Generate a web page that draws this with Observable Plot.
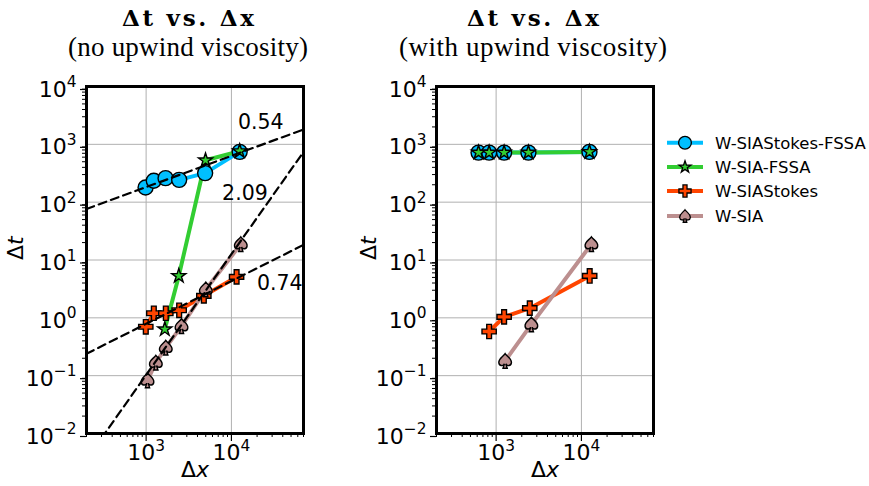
<!DOCTYPE html>
<html><head><meta charset="utf-8">
<script src="https://cdn.jsdelivr.net/npm/d3@7"></script>
<script src="https://cdn.jsdelivr.net/npm/@observablehq/plot@0.6"></script>
<style>
html,body{margin:0;padding:0;background:#fff;}
#wrap{position:relative;width:869px;height:486px;overflow:hidden;font-family:"DejaVu Sans",sans-serif;}
.panel{position:absolute;top:0;}
</style></head><body>
<div id="wrap"></div>
<script>
// ---------- data ----------
const xDomain = [200, 70000];
const yDomain = [1e-2, 1e4];
const xMajor = [1e3, 1e4];
const yMajor = [1e-2, 1e-1, 1e0, 1e1, 1e2, 1e3, 1e4];

const seriesNames = ["W-SIAStokes-FSSA", "W-SIA-FSSA", "W-SIAStokes", "W-SIA"];
const seriesColors = ["deepskyblue", "limegreen", "orangered", "rosybrown"];

const panelTitles = ["Δt vs. Δx", "Δt vs. Δx"];
const panelSubtitles = ["(no upwind viscosity)", "(with upwind viscosity)"];

// Panel 1: no upwind viscosity
const p1StokesFssaDx = [985, 1230, 1690, 2440, 4920, 12500];
const p1StokesFssaDt = [179, 234, 260, 243, 318, 741];
const p1SiaFssaDx = [1656, 2416, 4970, 12500];
const p1SiaFssaDt = [0.635, 5.3, 530, 762];
const p1StokesDx = [991, 1231, 1702, 2440, 4750, 11500];
const p1StokesDt = [0.70, 1.20, 1.20, 1.35, 2.4, 5.1];
const p1SiaDx = [1038, 1300, 1700, 2600, 5010, 12880];
const p1SiaDt = [0.083, 0.168, 0.305, 0.72, 3.1, 18.8];

// Panel 2: with upwind viscosity
const p2StokesFssaDx = [622, 828, 1241, 2393, 12420];
const p2StokesFssaDt = [720, 720, 720, 720, 740];
const p2SiaFssaDx = [622, 828, 1241, 2393, 12420];
const p2SiaFssaDt = [720, 720, 720, 720, 740];
const p2StokesDx = [828, 1241, 2480, 12500];
const p2StokesDt = [0.58, 1.04, 1.47, 5.3];
const p2SiaDx = [1275, 2590, 13100];
const p2SiaDt = [0.18, 0.77, 18.8];

// Power-law fits (panel 1): slope and an anchor point on the fitted line
const fitSlopes = [0.54, 2.09, 0.74];
const fitAnchorX = [3741, 328, 3741];
const fitAnchorY = [371.5, 0.01, 2.09];
// fit slope annotations
const fitLabelX = [22100, 14400, 36900];
const fitLabelY = [2355, 139, 4.0];

// ---------- helpers ----------
const spade = {
  draw(ctx, size) {
    const r = Math.sqrt(size / Math.PI);
    ctx.moveTo(0, -1.05 * r);
    ctx.bezierCurveTo(0.35 * r, -0.55 * r, 0.95 * r, -0.35 * r, 0.9 * r, 0.25 * r);
    ctx.bezierCurveTo(0.85 * r, 0.75 * r, 0.25 * r, 0.8 * r, 0.1 * r, 0.4 * r);
    ctx.lineTo(0.3 * r, 1.05 * r);
    ctx.lineTo(-0.3 * r, 1.05 * r);
    ctx.lineTo(-0.1 * r, 0.4 * r);
    ctx.bezierCurveTo(-0.25 * r, 0.8 * r, -0.85 * r, 0.75 * r, -0.9 * r, 0.25 * r);
    ctx.bezierCurveTo(-0.95 * r, -0.35 * r, -0.35 * r, -0.55 * r, 0, -1.05 * r);
    ctx.closePath();
  }
};
const seriesSymbols = ["circle", "star", "cross", spade];
const seriesR = [7.5, 4.4, 6, 7];

function table(xs, ys) { return xs.map((x, i) => ({x, y: ys[i]})); }
function expLabel(d) {
  const e = Math.round(Math.log10(d));
  return "10^" + (e < 0 ? "\u2212" + (-e) : String(e));
}
const minorOf = (lo, hi) => {
  const out = [];
  for (let e = Math.floor(Math.log10(lo)); e <= Math.ceil(Math.log10(hi)); e++)
    for (let m = 2; m <= 9; m++) { const v = m * Math.pow(10, e); if (v >= lo && v <= hi) out.push(v); }
  return out;
};
const xMinor = minorOf(xDomain[0], xDomain[1]);
const yMinor = minorOf(yDomain[0], yDomain[1]);

function panel(seriesData, fits, ylabDx) {
  const marks = [
    Plot.gridX(xMajor, {stroke: "#b0b0b0", strokeOpacity: 1, strokeWidth: 1}),
    Plot.gridY(yMajor, {stroke: "#b0b0b0", strokeOpacity: 1, strokeWidth: 1}),
    Plot.axisX({ticks: xMinor, tickSize: 4, tickFormat: () => "", label: null, strokeWidth: 1}),
    Plot.axisY({ticks: yMinor, tickSize: 4, tickFormat: () => "", label: null, strokeWidth: 1}),
    Plot.axisX({ticks: xMajor, tickSize: 6, tickPadding: 3, tickFormat: expLabel, label: null, fontSize: 22, dy: 2, strokeWidth: 1.2}),
    Plot.axisY({ticks: yMajor, tickSize: 6, tickPadding: 4, tickFormat: expLabel, label: null, fontSize: 22, dy: 3, strokeWidth: 1.2}),
  ];
  seriesData.forEach((s, i) => {
    marks.push(Plot.line(s, {x: "x", y: "y", stroke: seriesColors[i], strokeWidth: 4}));
  });
  seriesData.forEach((s, i) => {
    marks.push(Plot.dot(s, {x: "x", y: "y", symbol: seriesSymbols[i], r: seriesR[i], fill: seriesColors[i], stroke: "black", strokeWidth: 1.4}));
  });
  if (fits) {
    fitSlopes.forEach((k, i) => {
      const pts = xDomain.map(x => ({x, y: fitAnchorY[i] * Math.pow(x / fitAnchorX[i], k)}));
      marks.push(Plot.line(pts, {x: "x", y: "y", stroke: "black", strokeWidth: 2.2, strokeDasharray: "8,5", clip: true}));
    });
    marks.push(Plot.text(fitSlopes, {x: (d, i) => fitLabelX[i], y: (d, i) => fitLabelY[i], text: d => d.toFixed(2), fontSize: 20.5, fill: "black"}));
  }
  marks.push(Plot.frame({stroke: "black", strokeWidth: 3}));
  marks.push(Plot.text(["Δt"], {frameAnchor: "left", dx: ylabDx, rotate: -90, fontSize: 22, fill: "black"}));
  marks.push(Plot.text(["Δx"], {frameAnchor: "bottom", dy: 43, fontSize: 22, fill: "black"}));
  const svg = Plot.plot({
    width: 330, height: 486,
    marginLeft: 86, marginRight: 27, marginTop: 86, marginBottom: 53,
    style: {fontFamily: "DejaVu Sans", fontSize: "22px", background: "white", color: "black"},
    x: {type: "log", domain: xDomain},
    y: {type: "log", domain: yDomain},
    marks
  });
  // superscripts & italic math letters
  d3.select(svg).selectAll("text").each(function () {
    const t = this.textContent;
    const m = /^10\^(.+)$/.exec(t);
    const s = d3.select(this);
    if (m) {
      this.textContent = "";
      s.append("tspan").text("10");
      s.append("tspan").attr("font-size", "0.7em").attr("dy", "-0.62em").text(m[1]);
    } else if (t === "Δt" || t === "Δx") {
      this.textContent = "";
      s.append("tspan").text("Δ");
      s.append("tspan").attr("font-style", "italic").text(t[1]);
    }
  });
  return svg;
}

const wrap = document.getElementById("wrap");
const p1 = panel([
  table(p1StokesFssaDx, p1StokesFssaDt),
  table(p1SiaFssaDx, p1SiaFssaDt),
  table(p1StokesDx, p1StokesDt),
  table(p1SiaDx, p1SiaDt)
], true, -71);
const p2 = panel([
  table(p2StokesFssaDx, p2StokesFssaDt),
  table(p2SiaFssaDx, p2SiaFssaDt),
  table(p2StokesDx, p2StokesDt),
  table(p2SiaDx, p2SiaDt)
], false, -68);
const d1 = document.createElement("div"); d1.className = "panel"; d1.style.left = "0px"; d1.appendChild(p1);
const d2 = document.createElement("div"); d2.className = "panel"; d2.style.left = "350px"; d2.appendChild(p2);
wrap.appendChild(d1); wrap.appendChild(d2);

// ---------- titles & legend overlay ----------
const ov = d3.select(wrap).append("svg")
  .attr("width", 869).attr("height", 486)
  .style("position", "absolute").style("left", 0).style("top", 0)
  .style("pointer-events", "none");
const titleCenters = [188, 533];
const subtitleWidths = [240, 268];
titleCenters.forEach((cx, i) => {
  ov.append("text").attr("x", cx).attr("y", 26).attr("text-anchor", "middle")
    .attr("font-family", "DejaVu Serif").attr("font-weight", "bold").attr("font-size", 23)
    .attr("textLength", 132).attr("lengthAdjust", "spacing")
    .text(panelTitles[i]);
  ov.append("text").attr("x", cx).attr("y", 56).attr("text-anchor", "middle")
    .attr("font-family", "Liberation Serif").attr("font-size", 27)
    .attr("textLength", subtitleWidths[i]).attr("lengthAdjust", "spacing")
    .text(panelSubtitles[i]);
});
const legRowY = [142.7, 167, 191, 216];
seriesNames.forEach((name, i) => {
  const y = legRowY[i];
  ov.append("line").attr("x1", 667).attr("x2", 703).attr("y1", y).attr("y2", y)
    .attr("stroke", seriesColors[i]).attr("stroke-width", 4);
  const r = seriesR[i] * 0.85;
  const type = typeof seriesSymbols[i] === "string"
    ? {circle: d3.symbolCircle, star: d3.symbolStar, cross: d3.symbolCross}[seriesSymbols[i]]
    : seriesSymbols[i];
  ov.append("path").attr("d", d3.symbol().type(type).size(Math.PI * r * r)())
    .attr("transform", `translate(685,${y})`)
    .attr("fill", seriesColors[i]).attr("stroke", "black").attr("stroke-width", 1.3);
  ov.append("text").attr("x", 715).attr("y", y).attr("dy", "0.36em")
    .attr("font-family", "DejaVu Sans").attr("font-size", 16.5).text(name);
});
</script>
</body></html>
